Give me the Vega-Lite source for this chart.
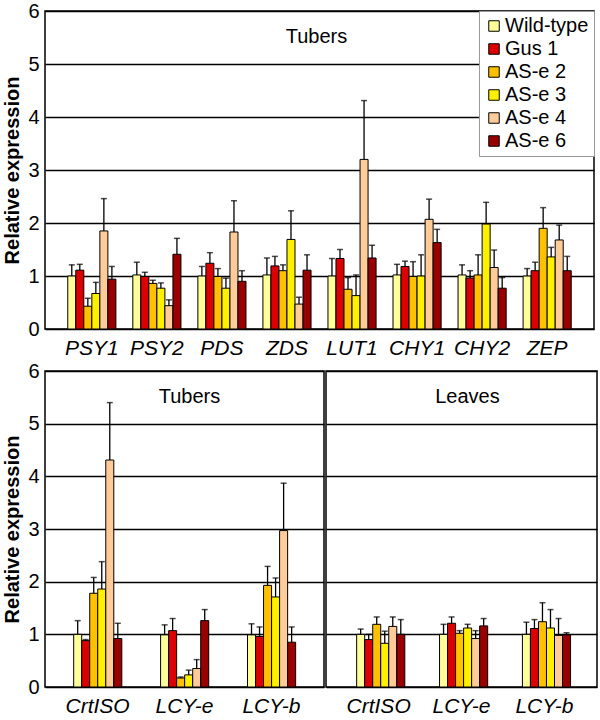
{
  "$schema": "https://vega.github.io/schema/vega-lite/v6.json",
  "background": "white",
  "padding": {"left": 2, "top": 0, "right": 2, "bottom": 0},
  "config": {
    "font": "Liberation Sans",
    "view": {"stroke": "black", "strokeWidth": 1.5},
    "axisY": {"grid": true, "gridColor": "black", "gridWidth": 1.3, "gridOpacity": 1, "domain": false, "ticks": false, "labelFontSize": 20, "labelColor": "black", "labelPadding": 6, "titleFontSize": 20, "titleFontWeight": "bold", "titleColor": "black", "titlePadding": 5, "values": [0, 1, 2, 3, 4, 5, 6]},
    "axisX": {"domain": false, "ticks": false, "labelFontSize": 21, "labelFontStyle": "italic", "labelColor": "black", "labelPadding": 8, "labelAngle": 0, "title": null},
    "title": {"fontSize": 20, "fontWeight": "normal", "color": "black", "anchor": "middle", "frame": "group", "offset": -46}
  },
  "resolve": {"legend": {"color": "independent"}},
  "datasets": {
    "top": [
      {"gene": "PSY1", "line": "Wild-type", "value": 1.0, "upper": 1.21},
      {"gene": "PSY1", "line": "Gus 1", "value": 1.11, "upper": 1.22},
      {"gene": "PSY1", "line": "AS-e 2", "value": 0.43, "upper": 0.58},
      {"gene": "PSY1", "line": "AS-e 3", "value": 0.67, "upper": 0.88},
      {"gene": "PSY1", "line": "AS-e 4", "value": 1.85, "upper": 2.46},
      {"gene": "PSY1", "line": "AS-e 6", "value": 0.94, "upper": 1.18},
      {"gene": "PSY2", "line": "Wild-type", "value": 1.02, "upper": 1.26},
      {"gene": "PSY2", "line": "Gus 1", "value": 0.99, "upper": 1.07},
      {"gene": "PSY2", "line": "AS-e 2", "value": 0.86, "upper": 0.92},
      {"gene": "PSY2", "line": "AS-e 3", "value": 0.77, "upper": 0.87},
      {"gene": "PSY2", "line": "AS-e 4", "value": 0.44, "upper": 0.55},
      {"gene": "PSY2", "line": "AS-e 6", "value": 1.41, "upper": 1.71},
      {"gene": "PDS", "line": "Wild-type", "value": 1.0, "upper": 1.18},
      {"gene": "PDS", "line": "Gus 1", "value": 1.24, "upper": 1.44},
      {"gene": "PDS", "line": "AS-e 2", "value": 0.99, "upper": 1.14},
      {"gene": "PDS", "line": "AS-e 3", "value": 0.77, "upper": 0.96},
      {"gene": "PDS", "line": "AS-e 4", "value": 1.83, "upper": 2.42},
      {"gene": "PDS", "line": "AS-e 6", "value": 0.9, "upper": 1.1},
      {"gene": "ZDS", "line": "Wild-type", "value": 1.02, "upper": 1.34},
      {"gene": "ZDS", "line": "Gus 1", "value": 1.19, "upper": 1.37},
      {"gene": "ZDS", "line": "AS-e 2", "value": 1.1, "upper": 1.21},
      {"gene": "ZDS", "line": "AS-e 3", "value": 1.69, "upper": 2.23},
      {"gene": "ZDS", "line": "AS-e 4", "value": 0.47, "upper": 0.6},
      {"gene": "ZDS", "line": "AS-e 6", "value": 1.11, "upper": 1.4},
      {"gene": "LUT1", "line": "Wild-type", "value": 1.0, "upper": 1.33},
      {"gene": "LUT1", "line": "Gus 1", "value": 1.33, "upper": 1.5},
      {"gene": "LUT1", "line": "AS-e 2", "value": 0.75, "upper": 0.97},
      {"gene": "LUT1", "line": "AS-e 3", "value": 0.63, "upper": 1.02},
      {"gene": "LUT1", "line": "AS-e 4", "value": 3.2, "upper": 4.31},
      {"gene": "LUT1", "line": "AS-e 6", "value": 1.34, "upper": 1.58},
      {"gene": "CHY1", "line": "Wild-type", "value": 1.02, "upper": 1.22},
      {"gene": "CHY1", "line": "Gus 1", "value": 1.18, "upper": 1.28},
      {"gene": "CHY1", "line": "AS-e 2", "value": 0.99, "upper": 1.27},
      {"gene": "CHY1", "line": "AS-e 3", "value": 1.0, "upper": 1.4},
      {"gene": "CHY1", "line": "AS-e 4", "value": 2.07, "upper": 2.45},
      {"gene": "CHY1", "line": "AS-e 6", "value": 1.63, "upper": 1.88},
      {"gene": "CHY2", "line": "Wild-type", "value": 1.02, "upper": 1.21},
      {"gene": "CHY2", "line": "Gus 1", "value": 0.96, "upper": 1.1},
      {"gene": "CHY2", "line": "AS-e 2", "value": 1.02, "upper": 1.4},
      {"gene": "CHY2", "line": "AS-e 3", "value": 1.98, "upper": 2.39},
      {"gene": "CHY2", "line": "AS-e 4", "value": 1.16, "upper": 1.49},
      {"gene": "CHY2", "line": "AS-e 6", "value": 0.77, "upper": 0.97},
      {"gene": "ZEP", "line": "Wild-type", "value": 1.0, "upper": 1.14},
      {"gene": "ZEP", "line": "Gus 1", "value": 1.1, "upper": 1.26},
      {"gene": "ZEP", "line": "AS-e 2", "value": 1.9, "upper": 2.29},
      {"gene": "ZEP", "line": "AS-e 3", "value": 1.36, "upper": 1.54},
      {"gene": "ZEP", "line": "AS-e 4", "value": 1.68, "upper": 1.96},
      {"gene": "ZEP", "line": "AS-e 6", "value": 1.1, "upper": 1.37}
    ],
    "tubers": [
      {"gene": "CrtISO", "line": "Wild-type", "value": 1.0, "upper": 1.26},
      {"gene": "CrtISO", "line": "Gus 1", "value": 0.88, "upper": 0.9},
      {"gene": "CrtISO", "line": "AS-e 2", "value": 1.78, "upper": 2.08},
      {"gene": "CrtISO", "line": "AS-e 3", "value": 1.86, "upper": 2.38},
      {"gene": "CrtISO", "line": "AS-e 4", "value": 4.31, "upper": 5.4},
      {"gene": "CrtISO", "line": "AS-e 6", "value": 0.92, "upper": 1.21},
      {"gene": "LCY-e", "line": "Wild-type", "value": 0.99, "upper": 1.18},
      {"gene": "LCY-e", "line": "Gus 1", "value": 1.07, "upper": 1.3},
      {"gene": "LCY-e", "line": "AS-e 2", "value": 0.17, "upper": 0.19},
      {"gene": "LCY-e", "line": "AS-e 3", "value": 0.23, "upper": 0.32},
      {"gene": "LCY-e", "line": "AS-e 4", "value": 0.35, "upper": 0.52},
      {"gene": "LCY-e", "line": "AS-e 6", "value": 1.26, "upper": 1.47},
      {"gene": "LCY-b", "line": "Wild-type", "value": 0.99, "upper": 1.2},
      {"gene": "LCY-b", "line": "Gus 1", "value": 0.96, "upper": 1.14},
      {"gene": "LCY-b", "line": "AS-e 2", "value": 1.93, "upper": 2.29},
      {"gene": "LCY-b", "line": "AS-e 3", "value": 1.71, "upper": 2.07},
      {"gene": "LCY-b", "line": "AS-e 4", "value": 2.97, "upper": 3.87},
      {"gene": "LCY-b", "line": "AS-e 6", "value": 0.85, "upper": 1.14}
    ],
    "leaves": [
      {"gene": "CrtISO", "line": "Wild-type", "value": 1.0, "upper": 1.1},
      {"gene": "CrtISO", "line": "Gus 1", "value": 0.9, "upper": 1.0},
      {"gene": "CrtISO", "line": "AS-e 2", "value": 1.19, "upper": 1.33},
      {"gene": "CrtISO", "line": "AS-e 3", "value": 0.83, "upper": 1.06},
      {"gene": "CrtISO", "line": "AS-e 4", "value": 1.15, "upper": 1.33},
      {"gene": "CrtISO", "line": "AS-e 6", "value": 1.0, "upper": 1.28},
      {"gene": "LCY-e", "line": "Wild-type", "value": 1.0, "upper": 1.19},
      {"gene": "LCY-e", "line": "Gus 1", "value": 1.21, "upper": 1.33},
      {"gene": "LCY-e", "line": "AS-e 2", "value": 1.02, "upper": 1.07},
      {"gene": "LCY-e", "line": "AS-e 3", "value": 1.12, "upper": 1.19},
      {"gene": "LCY-e", "line": "AS-e 4", "value": 0.92, "upper": 1.07},
      {"gene": "LCY-e", "line": "AS-e 6", "value": 1.16, "upper": 1.3},
      {"gene": "LCY-b", "line": "Wild-type", "value": 1.0, "upper": 1.23},
      {"gene": "LCY-b", "line": "Gus 1", "value": 1.11, "upper": 1.28},
      {"gene": "LCY-b", "line": "AS-e 2", "value": 1.24, "upper": 1.6},
      {"gene": "LCY-b", "line": "AS-e 3", "value": 1.12, "upper": 1.47},
      {"gene": "LCY-b", "line": "AS-e 4", "value": 0.98, "upper": 1.3},
      {"gene": "LCY-b", "line": "AS-e 6", "value": 0.99, "upper": 1.03}
    ]
  },
  "vconcat": [
    {
      "width": 549,
      "height": 318,
      "title": {"text": "Tubers", "dx": -3},
      "data": {"name": "top"},
      "encoding": {
        "x": {"field": "gene", "type": "nominal", "sort": ["PSY1", "PSY2", "PDS", "ZDS", "LUT1", "CHY1", "CHY2", "ZEP"], "scale": {"paddingInner": 0.26, "paddingOuter": 0.35}},
        "xOffset": {"field": "line", "type": "nominal", "sort": ["Wild-type", "Gus 1", "AS-e 2", "AS-e 3", "AS-e 4", "AS-e 6"], "scale": {"paddingInner": 0, "paddingOuter": 0}}
      },
      "layer": [
        {
          "mark": {"type": "bar", "stroke": "black", "strokeWidth": 1},
          "encoding": {
            "y": {"field": "value", "type": "quantitative", "scale": {"domain": [0, 6]}, "axis": {"title": "Relative expression"}},
            "color": {"field": "line", "type": "nominal", "scale": {"domain": ["Wild-type", "Gus 1", "AS-e 2", "AS-e 3", "AS-e 4", "AS-e 6"], "range": ["#FFFF99", "#DD0000", "#FFC000", "#FFF000", "#FFCC99", "#990000"]},
              "legend": {"title": null, "orient": "top-right", "offset": 0, "labelFontSize": 20, "labelColor": "black", "symbolType": "square", "symbolSize": 110, "symbolStrokeColor": "black", "symbolStrokeWidth": 1, "symbolOpacity": 1, "strokeColor": "#999999", "fillColor": "white", "padding": 5, "rowPadding": 3, "labelOffset": 1}}
          }
        },
        {
          "mark": {"type": "rule", "color": "black", "strokeWidth": 1.3},
          "encoding": {"y": {"field": "value", "type": "quantitative"}, "y2": {"field": "upper"}}
        },
        {
          "mark": {"type": "tick", "color": "black", "size": 6, "thickness": 1.5},
          "encoding": {"y": {"field": "upper", "type": "quantitative"}}
        }
      ]
    },
    {
      "hconcat": [
        {
          "width": 279,
          "height": 316,
          "title": {"text": "Tubers", "dx": 5},
          "data": {"name": "tubers"},
          "encoding": {
            "x": {"field": "gene", "type": "nominal", "sort": ["CrtISO", "LCY-e", "LCY-b"], "scale": {"paddingInner": 0.45, "paddingOuter": 0.33}},
            "xOffset": {"field": "line", "type": "nominal", "sort": ["Wild-type", "Gus 1", "AS-e 2", "AS-e 3", "AS-e 4", "AS-e 6"], "scale": {"paddingInner": 0, "paddingOuter": 0}}
          },
          "layer": [
            {
              "mark": {"type": "bar", "stroke": "black", "strokeWidth": 1},
              "encoding": {
                "y": {"field": "value", "type": "quantitative", "scale": {"domain": [0, 6]}, "axis": {"title": "Relative expression"}},
                "color": {"field": "line", "type": "nominal", "scale": {"domain": ["Wild-type", "Gus 1", "AS-e 2", "AS-e 3", "AS-e 4", "AS-e 6"], "range": ["#FFFF99", "#DD0000", "#FFC000", "#FFF000", "#FFCC99", "#990000"]}, "legend": null}
              }
            },
            {
              "mark": {"type": "rule", "color": "black", "strokeWidth": 1.3},
              "encoding": {"y": {"field": "value", "type": "quantitative"}, "y2": {"field": "upper"}}
            },
            {
              "mark": {"type": "tick", "color": "black", "size": 6, "thickness": 1.5},
              "encoding": {"y": {"field": "upper", "type": "quantitative"}}
            }
          ]
        },
        {
          "width": 271,
          "height": 316,
          "title": {"text": "Leaves", "dx": 6, "offset": -36},
          "data": {"name": "leaves"},
          "encoding": {
            "x": {"field": "gene", "type": "nominal", "sort": ["CrtISO", "LCY-e", "LCY-b"], "scale": {"paddingInner": 0.47, "paddingOuter": 0.37}},
            "xOffset": {"field": "line", "type": "nominal", "sort": ["Wild-type", "Gus 1", "AS-e 2", "AS-e 3", "AS-e 4", "AS-e 6"], "scale": {"paddingInner": 0, "paddingOuter": 0}}
          },
          "layer": [
            {
              "mark": {"type": "bar", "stroke": "black", "strokeWidth": 1},
              "encoding": {
                "y": {"field": "value", "type": "quantitative", "scale": {"domain": [0, 6]}, "axis": {"title": null, "labels": false}},
                "color": {"field": "line", "type": "nominal", "scale": {"domain": ["Wild-type", "Gus 1", "AS-e 2", "AS-e 3", "AS-e 4", "AS-e 6"], "range": ["#FFFF99", "#DD0000", "#FFC000", "#FFF000", "#FFCC99", "#990000"]}, "legend": null}
              }
            },
            {
              "mark": {"type": "rule", "color": "black", "strokeWidth": 1.3},
              "encoding": {"y": {"field": "value", "type": "quantitative"}, "y2": {"field": "upper"}}
            },
            {
              "mark": {"type": "tick", "color": "black", "size": 6, "thickness": 1.5},
              "encoding": {"y": {"field": "upper", "type": "quantitative"}}
            }
          ]
        }
      ],
      "spacing": 0
    }
  ],
  "spacing": 1
}
